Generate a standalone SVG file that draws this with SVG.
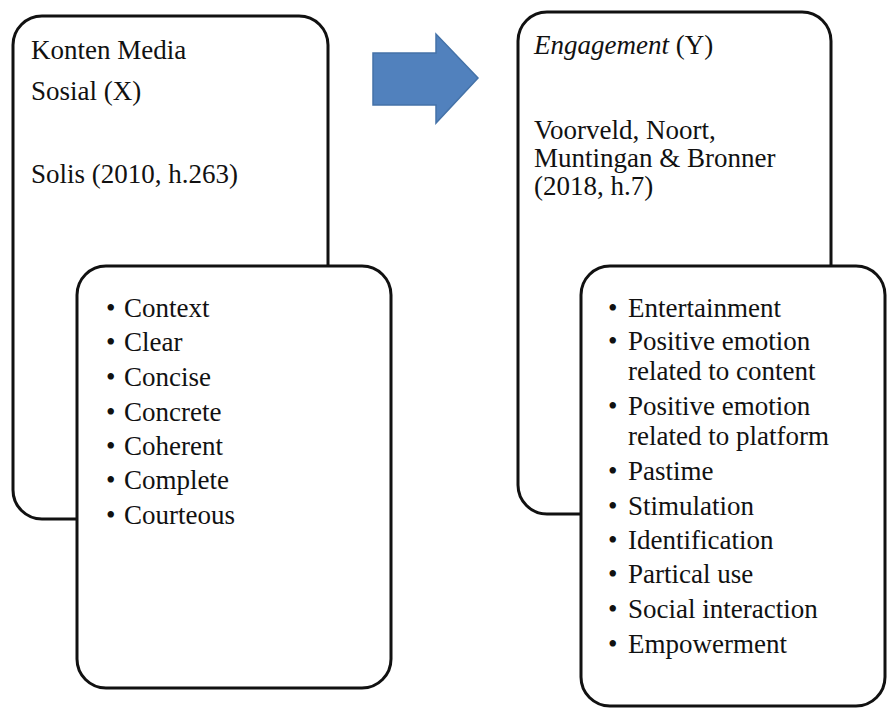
<svg xmlns="http://www.w3.org/2000/svg" width="887" height="710" viewBox="0 0 887 710">
<style>
.box{fill:#fff;stroke:#111;stroke-width:3}
.t{font-family:"Liberation Serif","Times New Roman",serif;font-size:27px;fill:#111}
.arrow{fill:#5181bd;stroke:#4472a8;stroke-width:1.5}
</style>
<rect width="887" height="710" fill="#fff"/>
<g id="connectors">
<polygon class="arrow" points="373,53 436,53 436,34 478,78 436,123 436,105 373,105"/>
</g>
<g id="left-outer">
<rect class="box" x="13" y="16" width="315" height="503" rx="29"/>
<text class="t" x="31" y="59">Konten Media</text>
<text class="t" x="31" y="100">Sosial (X)</text>
<text class="t" x="31" y="183">Solis (2010, h.263)</text>
</g>
<g id="left-inner">
<rect class="box" x="77" y="266" width="314" height="422" rx="29"/>
<g class="t">
<text x="106" y="317">•</text><text x="124" y="317">Context</text>
<text x="106" y="351">•</text><text x="124" y="351">Clear</text>
<text x="106" y="386">•</text><text x="124" y="386">Concise</text>
<text x="106" y="421">•</text><text x="124" y="421">Concrete</text>
<text x="106" y="455">•</text><text x="124" y="455">Coherent</text>
<text x="106" y="489">•</text><text x="124" y="489">Complete</text>
<text x="106" y="524">•</text><text x="124" y="524">Courteous</text>
</g>
</g>
<g id="right-outer">
<rect class="box" x="518" y="12" width="313" height="502" rx="29"/>
<text class="t" x="534" y="54"><tspan font-style="italic">Engagement</tspan> (Y)</text>
<text class="t" x="534" y="139" font-size="26.5">Voorveld, Noort,</text>
<text class="t" x="534" y="167" font-size="26.5">Muntingan &amp; Bronner</text>
<text class="t" x="534" y="195" font-size="26.5">(2018, h.7)</text>
</g>
<g id="right-inner">
<rect class="box" x="581" y="266" width="304" height="440" rx="29"/>
<g class="t">
<text x="608" y="317">•</text><text x="628" y="317">Entertainment</text>
<text x="608" y="350">•</text><text x="628" y="350">Positive emotion</text>
<text x="628" y="380">related to content</text>
<text x="608" y="415">•</text><text x="628" y="415">Positive emotion</text>
<text x="628" y="445">related to platform</text>
<text x="608" y="480">•</text><text x="628" y="480">Pastime</text>
<text x="608" y="515">•</text><text x="628" y="515">Stimulation</text>
<text x="608" y="549">•</text><text x="628" y="549">Identification</text>
<text x="608" y="583">•</text><text x="628" y="583">Partical use</text>
<text x="608" y="618">•</text><text x="628" y="618">Social interaction</text>
<text x="608" y="653">•</text><text x="628" y="653">Empowerment</text>
</g>
</g>
</svg>
